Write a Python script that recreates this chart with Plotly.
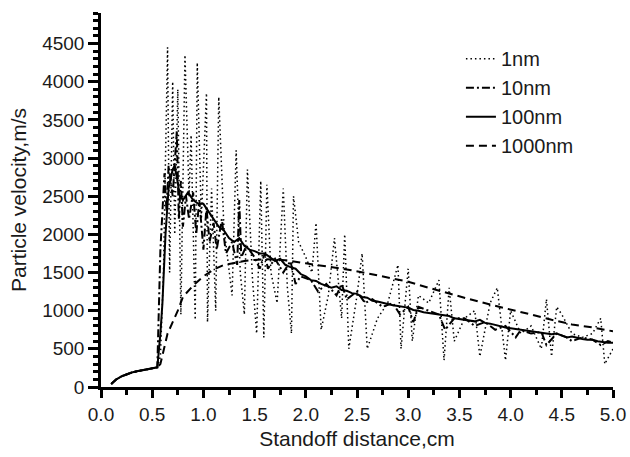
import plotly.graph_objects as go

# shared initial acceleration segment (all sizes)
start_x = [0.10, 0.15, 0.20, 0.25, 0.30, 0.35, 0.40, 0.45, 0.50, 0.55]
start_v = [40, 100, 140, 170, 190, 205, 220, 232, 245, 258]

# 1 nm (dotted)
x_1nm = [0.58, 0.61, 0.63, 0.65, 0.67, 0.70, 0.72, 0.75, 0.78, 0.82, 0.86, 0.88, 0.92, 0.94,
         0.98, 1.03, 1.04, 1.08, 1.12, 1.15, 1.20, 1.25, 1.28, 1.32, 1.36, 1.40, 1.43, 1.48,
         1.52, 1.56, 1.59, 1.62, 1.66, 1.72, 1.78, 1.82, 1.86, 1.88, 1.93, 2.00, 2.06, 2.10,
         2.15, 2.22, 2.28, 2.35, 2.38, 2.42, 2.50, 2.55, 2.60, 2.70, 2.80, 2.90, 2.93, 3.00,
         3.04, 3.10, 3.20, 3.30, 3.35, 3.40, 3.45, 3.55, 3.65, 3.70, 3.80, 3.87, 3.95, 4.00,
         4.10, 4.20, 4.30, 4.35, 4.40, 4.45, 4.50, 4.60, 4.70, 4.80, 4.88, 4.92, 5.00]
v_1nm = [400, 1500, 3000, 4450, 1500, 4000, 2000, 3900, 950, 4350, 2500, 3300, 880, 4250,
         2200, 3850, 850, 2600, 1000, 3800, 2100, 1500, 1200, 3100, 1500, 950, 2850, 1400,
         700, 2700, 650, 2650, 1500, 1100, 2600, 1300, 700, 2500, 1900, 1700, 1500, 2150,
         750, 1200, 1950, 900, 2000, 500, 1200, 1750, 500, 900, 1100, 1600, 500, 1550,
         600, 1200, 1100, 1400, 350, 1300, 600, 900, 1000, 400, 1100, 1300, 350, 1000,
         700, 800, 500, 1150, 400, 1050, 950, 700, 650, 700, 900, 300, 500]

# 10 nm (dash-dot)
x_10nm = [0.58, 0.62, 0.64, 0.66, 0.70, 0.74, 0.76, 0.78, 0.80, 0.83, 0.86, 0.90, 0.93, 0.96,
          1.00, 1.03, 1.06, 1.10, 1.13, 1.18, 1.22, 1.28, 1.33, 1.35, 1.37, 1.42, 1.50, 1.55,
          1.60, 1.63, 1.70, 1.78, 1.85, 1.90, 1.95, 2.05, 2.12, 2.20, 2.30, 2.35, 2.40, 2.50,
          2.58, 2.65, 2.75, 2.85, 2.92, 3.00, 3.05, 3.10, 3.20, 3.30, 3.36, 3.45, 3.55, 3.65,
          3.75, 3.85, 3.95, 4.05, 4.10, 4.20, 4.30, 4.35, 4.45, 4.55, 4.60, 4.70, 4.80, 4.88,
          4.95, 5.00]
v_10nm = [1800, 2800, 2300, 2900, 2500, 3350, 2200, 2700, 2100, 2500, 2200, 2550, 2000, 2450,
          1800, 2350, 1900, 2150, 1800, 2200, 1750, 1900, 1600, 2450, 1700, 1850, 1700, 1550,
          1750, 1550, 1680, 1500, 1650, 1350, 1450, 1400, 1250, 1350, 1200, 1350, 1150, 1250,
          1100, 1150, 1050, 1100, 950, 1050, 850, 1050, 1000, 950, 750, 900, 900, 800,
          850, 750, 800, 650, 750, 700, 720, 550, 700, 650, 600, 650, 620, 550,
          600, 580]

# 100 nm (solid)
x_100nm = [0.58, 0.60, 0.63, 0.66, 0.70, 0.72, 0.74, 0.77, 0.80, 0.85, 0.90, 0.95, 1.00, 1.05,
           1.10, 1.15, 1.20, 1.25, 1.30, 1.35, 1.40, 1.45, 1.50, 1.55, 1.60, 1.65, 1.70, 1.75,
           1.80, 1.85, 1.90, 1.95, 2.00, 2.05, 2.10, 2.15, 2.20, 2.25, 2.30, 2.35, 2.40, 2.45,
           2.50, 2.55, 2.60, 2.65, 2.70, 2.75, 2.80, 2.85, 2.90, 2.95, 3.00, 3.05, 3.10, 3.15,
           3.20, 3.25, 3.30, 3.35, 3.40, 3.45, 3.50, 3.55, 3.60, 3.65, 3.70, 3.75, 3.80, 3.85,
           3.90, 3.95, 4.00, 4.05, 4.10, 4.15, 4.20, 4.25, 4.30, 4.35, 4.40, 4.45, 4.50, 4.55,
           4.60, 4.65, 4.70, 4.75, 4.80, 4.85, 4.90, 4.95, 5.00]
v_100nm = [700, 1100, 2000, 2600, 2850, 2900, 2750, 2500, 2450, 2550, 2450, 2400, 2400, 2300,
           2200, 2100, 2050, 1950, 1900, 1950, 1850, 1800, 1780, 1750, 1750, 1700, 1650, 1680,
           1600, 1570, 1550, 1480, 1450, 1400, 1390, 1350, 1330, 1300, 1320, 1270, 1260, 1230,
           1220, 1180, 1170, 1130, 1120, 1100, 1080, 1070, 1060, 1050, 1040, 1010, 1000, 980,
           970, 960, 950, 940, 930, 900, 890, 880, 870, 860, 880, 840, 830, 810,
           790, 780, 770, 760, 750, 740, 730, 720, 710, 700, 690, 700, 680, 650,
           660, 640, 630, 620, 620, 600, 590, 580, 580]

# 1000 nm (dashed)
x_1000nm = [0.58, 0.65, 0.70, 0.75, 0.80, 0.90, 1.00, 1.10, 1.20, 1.30, 1.40, 1.50, 1.60, 1.70,
            1.80, 2.00, 2.20, 2.40, 2.60, 2.80, 3.00, 3.20, 3.40, 3.60, 3.80, 4.00, 4.20, 4.40,
            4.60, 4.80, 5.00]
v_1000nm = [300, 700, 850, 1000, 1180, 1330, 1450, 1540, 1600, 1630, 1650, 1665, 1675, 1670,
            1660, 1620, 1580, 1540, 1490, 1430, 1380, 1300, 1220, 1150, 1080, 1020, 950, 880,
            820, 780, 730]

series = [
    ("1nm", x_1nm, v_1nm, "1.5px,3px", 1.5),
    ("10nm", x_10nm, v_10nm, "8px,3px,2px,3px", 2),
    ("100nm", x_100nm, v_100nm, "solid", 2),
    ("1000nm", x_1000nm, v_1000nm, "8px,5px", 2),
]

fig = go.Figure()
for i, (name, xs, vs, dash, w) in enumerate(series):
    fig.add_trace(go.Scatter(
        x=start_x + xs, y=start_v + vs, mode="lines", name=name,
        legendgroup=name,
        line=dict(color="black", width=w, dash=dash),
    ))

font = "Liberation Sans, Arial, sans-serif"
fig.update_layout(
    width=630, height=457,
    margin=dict(l=101, r=17, t=13, b=70),
    paper_bgcolor="white", plot_bgcolor="white",
    font=dict(family=font, color="#1a1a1a", size=19),
    showlegend=True,
    legend=dict(x=0.703, y=0.93, xanchor="left", yanchor="top",
                font=dict(size=20), tracegroupgap=0, bgcolor="rgba(0,0,0,0)"),
    xaxis=dict(
        range=[0, 5.0], tickmode="linear", tick0=0, dtick=0.5, tickformat=".1f",
        showline=True, linecolor="black", linewidth=2.5, mirror=False,
        ticks="outside", ticklen=8, tickwidth=2.5, tickcolor="black",
        minor=dict(dtick=0.25, ticks="outside", ticklen=5, tickwidth=2.5, tickcolor="black"),
        showgrid=False, zeroline=False, automargin=False,
        title=dict(text="Standoff distance,cm", font=dict(size=21), standoff=8),
        tickfont=dict(size=19),
    ),
    yaxis=dict(
        range=[0, 4900], tickmode="linear", tick0=0, dtick=500,
        showline=True, linecolor="black", linewidth=2.5, mirror=False,
        ticks="outside", ticklen=10, tickwidth=2.5, tickcolor="black",
        minor=dict(dtick=100, ticks="outside", ticklen=5, tickwidth=2.5, tickcolor="black"),
        showgrid=False, zeroline=False, automargin=False,
        title=dict(text="Particle velocity,m/s", font=dict(size=21), standoff=10),
        tickfont=dict(size=19),
    ),
)

fig.write_html("out.html")
